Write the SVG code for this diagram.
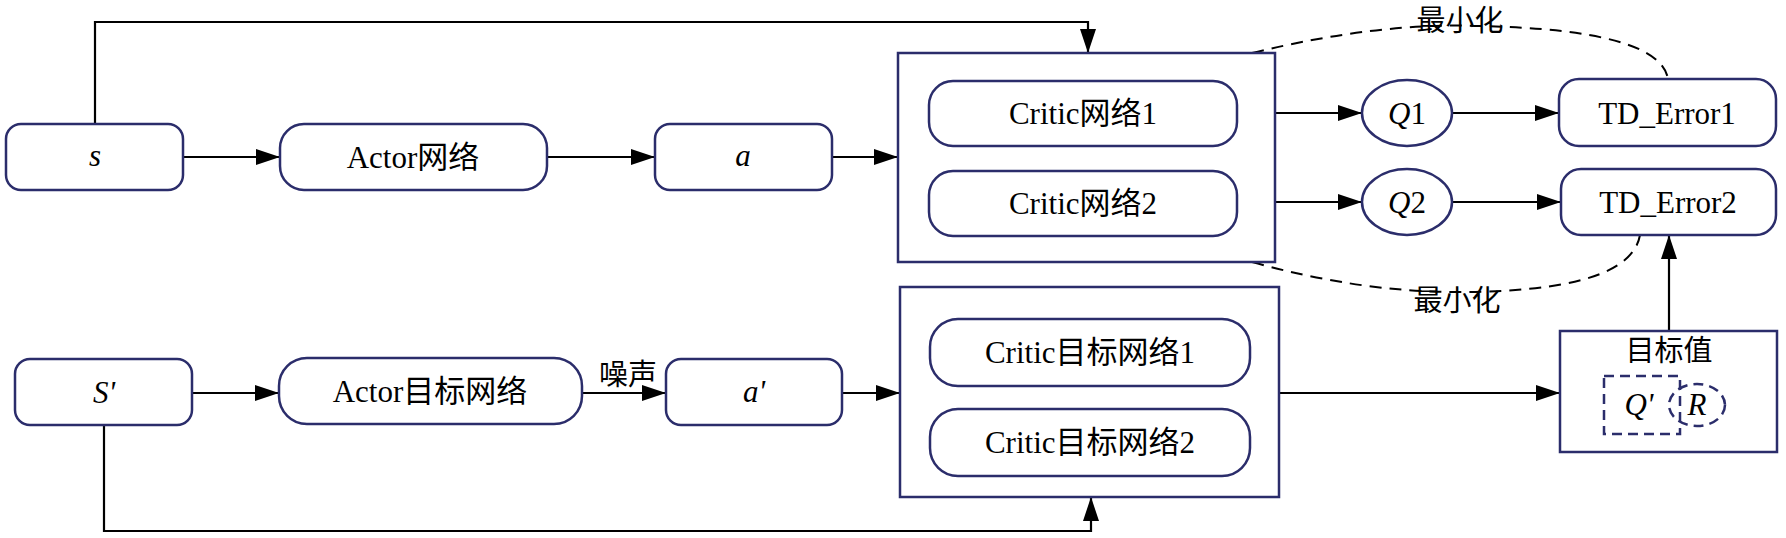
<svg xmlns="http://www.w3.org/2000/svg" width="1786" height="538" viewBox="0 0 1786 538">
<style>
.box{fill:#fff;stroke:#2b2d6b;stroke-width:2.5}
.dbox{fill:none;stroke:#2b2d6b;stroke-width:2.5;stroke-dasharray:10 6}
.conn{fill:none;stroke:#000;stroke-width:2.2}
.dash{fill:none;stroke:#000;stroke-width:2;stroke-dasharray:12 8}
.t{font-family:"Liberation Serif","Times New Roman","DejaVu Serif","Noto Sans CJK SC",serif;font-size:31px;fill:#000;text-anchor:middle}
.i{font-style:italic}
.c{font-family:"Noto Sans CJK SC",sans-serif;font-size:29px;fill:#000;text-anchor:middle}
</style>
<defs>
<marker id="ah" markerWidth="24" markerHeight="16" refX="24" refY="8" orient="auto" markerUnits="userSpaceOnUse">
<path d="M0,0 L24,8 L0,16 Z" fill="#000"/>
</marker>
</defs>
<g id="connectors">
<path class="conn" d="M95,124 V22 H1088 V53" marker-end="url(#ah)"/>
<path class="conn" d="M183,157 H280" marker-end="url(#ah)"/>
<path class="conn" d="M547,157 H655" marker-end="url(#ah)"/>
<path class="conn" d="M832,157 H898" marker-end="url(#ah)"/>
<path class="conn" d="M1275,113 H1362" marker-end="url(#ah)"/>
<path class="conn" d="M1453,113 H1559" marker-end="url(#ah)"/>
<path class="conn" d="M1275,202 H1362" marker-end="url(#ah)"/>
<path class="conn" d="M1453,202 H1561" marker-end="url(#ah)"/>
<path class="conn" d="M1669,331 V235" marker-end="url(#ah)"/>
<path class="conn" d="M192,393 H279" marker-end="url(#ah)"/>
<path class="conn" d="M582,393 H666" marker-end="url(#ah)"/>
<path class="conn" d="M842,393 H900" marker-end="url(#ah)"/>
<path class="conn" d="M1279,393 H1560" marker-end="url(#ah)"/>
<path class="conn" d="M104,425 V531 H1091 V497" marker-end="url(#ah)"/>
<path class="dash" d="M1252,53 Q1380,22 1480,26 Q1660,30 1668,79"/>
<path class="dash" d="M1252,262 Q1360,292 1457,292 Q1630,292 1640,235"/>
<text class="c" x="1460" y="31">最小化</text>
<text class="c" x="1457" y="311">最小化</text>
<text class="c" x="628" y="385">噪声</text>
</g>
<g id="n_s">
<rect class="box" x="6" y="124" width="177" height="66" rx="15"/>
<text class="t i" x="95" y="166">s</text>
</g>
<g id="n_actor">
<rect class="box" x="280" y="124" width="267" height="66" rx="24"/>
<text class="t" x="413" y="168">Actor网络</text>
</g>
<g id="n_a">
<rect class="box" x="655" y="124" width="177" height="66" rx="15"/>
<text class="t i" x="743" y="166">a</text>
</g>
<g id="n_critic">
<rect class="box" x="898" y="53" width="377" height="209"/>
<g id="n_critic1">
<rect class="box" x="929" y="81" width="308" height="65" rx="24"/>
<text class="t" x="1083" y="124">Critic网络1</text>
</g>
<g id="n_critic2">
<rect class="box" x="929" y="171" width="308" height="65" rx="24"/>
<text class="t" x="1083" y="214">Critic网络2</text>
</g>
</g>
<g id="n_q1">
<ellipse class="box" cx="1407" cy="113" rx="45" ry="33"/>
<text class="t" x="1407" y="124"><tspan class="i">Q</tspan>1</text>
</g>
<g id="n_q2">
<ellipse class="box" cx="1407" cy="202" rx="45" ry="33"/>
<text class="t" x="1407" y="213"><tspan class="i">Q</tspan>2</text>
</g>
<g id="n_td1">
<rect class="box" x="1559" y="79" width="217" height="67" rx="20"/>
<text class="t" x="1667" y="124">TD_Error1</text>
</g>
<g id="n_td2">
<rect class="box" x="1561" y="169" width="215" height="66" rx="20"/>
<text class="t" x="1668" y="213">TD_Error2</text>
</g>
<g id="n_s2">
<rect class="box" x="15" y="359" width="177" height="66" rx="15"/>
<text class="t i" x="104" y="403">S'</text>
</g>
<g id="n_actor_t">
<rect class="box" x="279" y="358" width="303" height="66" rx="28"/>
<text class="t" x="430" y="402">Actor目标网络</text>
</g>
<g id="n_a2">
<rect class="box" x="666" y="359" width="176" height="66" rx="15"/>
<text class="t i" x="754" y="402">a'</text>
</g>
<g id="n_critic_t">
<rect class="box" x="900" y="287" width="379" height="210"/>
<g id="n_critic_t1">
<rect class="box" x="930" y="319" width="320" height="67" rx="28"/>
<text class="t" x="1090" y="363">Critic目标网络1</text>
</g>
<g id="n_critic_t2">
<rect class="box" x="930" y="409" width="320" height="67" rx="28"/>
<text class="t" x="1090" y="453">Critic目标网络2</text>
</g>
</g>
<g id="n_target">
<rect class="box" x="1560" y="331" width="217" height="121"/>
<text class="c" x="1669" y="361">目标值</text>
<rect class="dbox" x="1604" y="376" width="76" height="58"/>
<ellipse class="dbox" cx="1697" cy="405" rx="28" ry="21"/>
<text class="t i" x="1639" y="415">Q'</text>
<text class="t i" x="1697" y="415">R</text>
</g>
</svg>
